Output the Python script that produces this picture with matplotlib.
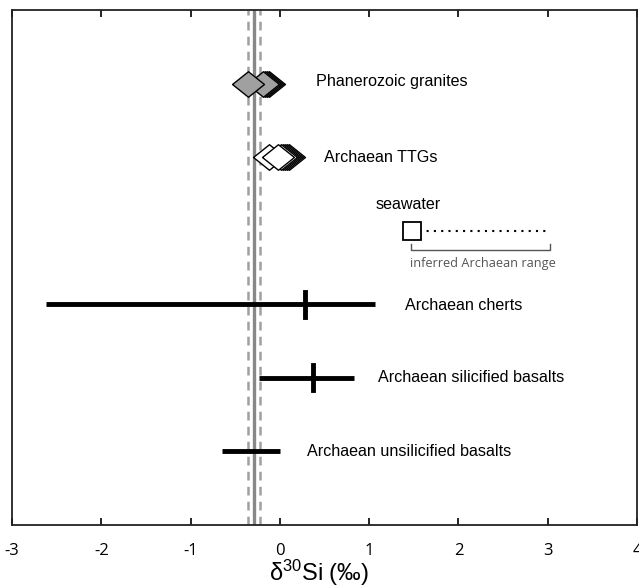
import matplotlib
matplotlib.use("Agg")
import matplotlib.pyplot as plt
import numpy as np

plt.rcParams["mathtext.fontset"] = "custom"
plt.rcParams["mathtext.rm"] = "Liberation Sans"
plt.rcParams["mathtext.it"] = "Liberation Sans:italic"

# Data
bse_mean = -0.29
bse_sd = 0.07
granites = [-0.125, -0.145, -0.17, -0.19, -0.36]
ttgs = [0.105, 0.08, 0.06, 0.03, 0.01, -0.02]
ttg_left = -0.12
seawater = 1.48
archaean_sw_range = [1.48, 3.0]
bracket_range = [1.47, 3.03]
ranges = {
    "Archaean cherts": (-2.62, 1.06, 0.28),
    "Archaean silicified basalts": (-0.23, 0.83, 0.37),
    "Archaean unsilicified basalts": (-0.65, 0.0, None),
}
range_y = [3, 2, 1]
xticks = [-3, -2, -1, 0, 1, 2, 3, 4]

fig = plt.figure(figsize=(6.39, 5.88), dpi=100)
ax = fig.add_axes([12/639, 63/588, 625/639, 515/588])
ax.set_xlim(-3, 4)
ax.set_ylim(0, 7)

# BSE lines
ax.axvline(bse_mean, color="#888888", lw=2.4, zorder=1)
ax.axvline(bse_mean - bse_sd, color="#a0a0a0", lw=1.8, ls=(0, (3.5, 2.5)), zorder=1)
ax.axvline(bse_mean + bse_sd, color="#a0a0a0", lw=1.8, ls=(0, (3.5, 2.5)), zorder=1)

diamond = [(-1, 0), (0, 0.8), (1, 0), (0, -0.8), (-1, 0)]
ms = 23
for i, g in enumerate(granites):
    ax.plot([g], [6], marker=diamond, ms=ms, mfc="#a0a0a0", mec="black", mew=1.0, ls="none", zorder=3+i)
ax.plot([ttg_left], [5], marker=diamond, ms=ms, mfc="white", mec="black", mew=1.0, ls="none", zorder=3)
for i, t in enumerate(ttgs):
    ax.plot([t], [5], marker=diamond, ms=ms, mfc="white", mec="black", mew=1.0, ls="none", zorder=4+i)

# seawater
ax.plot(archaean_sw_range, [4, 4], color="black", lw=1.5, ls=(0, (1, 2.5)), zorder=2)
ax.plot([seawater], [4], marker="s", ms=13, mfc="white", mec="black", mew=1.3, zorder=3)
by1, by2 = 4 - 0.18, 4 - 0.265
ax.plot([bracket_range[0], bracket_range[0], bracket_range[1], bracket_range[1]],
        [by1, by2, by2, by1], color="#555555", lw=1.0, zorder=2)

for (name, (lo, hi, mid)), y in zip(ranges.items(), range_y):
    ax.plot([lo, hi], [y, y], color="black", lw=3.5, solid_capstyle="butt", zorder=3)
    if mid is not None:
        ax.plot([mid, mid], [y - 0.17, y + 0.17], color="black", lw=3.5, zorder=3)

tf = dict(fontsize=11.6, family="Liberation Sans", va="center", ha="left")
ax.text(0.41, 6.03, "Phanerozoic granites", **tf)
ax.text(0.49, 5.0, "Archaean TTGs", **tf)
ax.text(1.07, 4.35, "seawater", **tf)
ax.text(1.4, 2.99, "Archaean cherts", **tf)
ax.text(1.1, 2.01, "Archaean silicified basalts", **tf)
ax.text(0.3, 1.0, "Archaean unsilicified basalts", **tf)
ax.text(1.46, 3.555, "inferred Archaean range", fontsize=9.2, family="Open Sans",
        color="#555555", va="center", ha="left")

ax.set_xticks(xticks)
ax.set_xticklabels([str(t) for t in xticks], family="Open Sans", fontsize=12)
ax.set_yticks([])
ax.tick_params(axis="x", direction="in", length=5, width=1.2, top=True, pad=13)
for s in ax.spines.values():
    s.set_linewidth(1.3)
    s.set_color("#222222")
fig.text(319/639, 1 - 581/588, r"δ$^{30}$Si (‰)", fontsize=17, family="Liberation Sans",
         ha="center", va="baseline")

fig.savefig("out.png", dpi=100)
